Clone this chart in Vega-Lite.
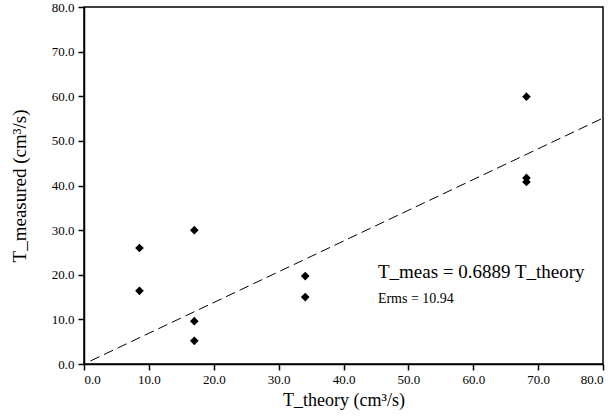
{
  "$schema": "https://vega.github.io/schema/vega-lite/v6.json",
  "width": 519,
  "height": 357,
  "autosize": {"type": "none"},
  "padding": {"left": 84, "top": 7, "right": 10, "bottom": 55},
  "background": "white",
  "config": {
    "font": "Liberation Serif",
    "view": {"stroke": "black", "strokeWidth": 1.5},
    "axis": {
      "grid": false,
      "domainColor": "black",
      "domainWidth": 1.5,
      "tickColor": "black",
      "tickWidth": 1.5,
      "tickSize": 6,
      "labelFont": "Liberation Serif",
      "labelFontSize": 13,
      "labelColor": "black",
      "titleFont": "Liberation Serif",
      "titleFontSize": 18,
      "titleFontWeight": "normal",
      "titleColor": "black"
    }
  },
  "datasets": {
    "pts": [
      {"theory": 8.55, "measured": 26.0},
      {"theory": 8.55, "measured": 16.4},
      {"theory": 17.0, "measured": 30.0},
      {"theory": 17.0, "measured": 9.6},
      {"theory": 17.0, "measured": 5.2},
      {"theory": 34.1, "measured": 19.7},
      {"theory": 34.1, "measured": 15.0},
      {"theory": 68.2, "measured": 59.9},
      {"theory": 68.2, "measured": 41.7},
      {"theory": 68.2, "measured": 40.8}
    ],
    "fit": [
      {"theory": 1.0, "measured": 0.6889},
      {"theory": 80.0, "measured": 55.11}
    ],
    "notes": [
      {"theory": 45.3, "measured": 20.6, "label": "T_meas = 0.6889  T_theory", "kind": "eq"},
      {"theory": 45.3, "measured": 14.6, "label": "Erms = 10.94", "kind": "err"}
    ]
  },
  "layer": [
    {
      "data": {"name": "fit"},
      "mark": {"type": "line", "color": "black", "strokeWidth": 1, "strokeDash": [10, 5], "clip": true},
      "encoding": {
        "x": {"field": "theory", "type": "quantitative", "scale": {"domain": [0, 80], "nice": false},
          "axis": {"values": [0, 10, 20, 30, 40, 50, 60, 70, 80], "format": ".1f", "title": "T_theory (cm³/s)", "titlePadding": 5, "labelPadding": 3, "labelFont": "Liberation Serif"}},
        "y": {"field": "measured", "type": "quantitative", "scale": {"domain": [0, 80], "nice": false},
          "axis": {"values": [0, 10, 20, 30, 40, 50, 60, 70, 80], "format": ".1f", "title": "T_measured (cm³/s)", "titleFontSize": 19, "titlePadding": 22, "labelPadding": 4, "labelFont": "Liberation Serif"}}
      }
    },
    {
      "data": {"name": "pts"},
      "mark": {"type": "point", "shape": "diamond", "filled": true, "color": "black", "size": 75, "opacity": 1},
      "encoding": {
        "x": {"field": "theory", "type": "quantitative"},
        "y": {"field": "measured", "type": "quantitative"}
      }
    },
    {
      "data": {"name": "notes"},
      "mark": {"type": "text", "align": "left", "baseline": "middle", "color": "black", "font": "Liberation Serif"},
      "encoding": {
        "x": {"field": "theory", "type": "quantitative"},
        "y": {"field": "measured", "type": "quantitative"},
        "text": {"field": "label"},
        "size": {"field": "kind", "type": "nominal", "scale": {"domain": ["eq", "err"], "range": [19, 14]}, "legend": null}
      }
    }
  ]
}
